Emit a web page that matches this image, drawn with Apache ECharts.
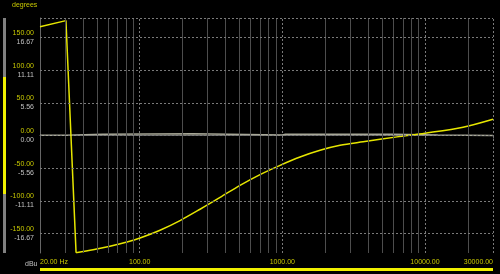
<!DOCTYPE html>
<html>
<head>
<meta charset="utf-8">
<script src="https://cdn.jsdelivr.net/npm/echarts@6/dist/echarts.min.js"></script>
<style>
html,body{margin:0;padding:0;background:#000;}
#c{width:500px;height:274px;}
</style>
</head>
<body>
<div id="c"></div>
<script>
// Phase response (degrees): wrap segment, then main curve
var wrapFreq = [20, 30.4, 35.8];
var wrapDeg  = [166.6, 176, -179.5];
var phaseFreq = [35.8, 47.1, 61.9, 81.5, 100.5, 138.8, 191.8, 265, 366, 505, 698, 964, 1331, 1839, 2540, 3682, 6376, 10000, 18500, 30000];
var phaseDeg  = [-179.5, -175.0, -169.6, -163.2, -157.1, -145.1, -130.3, -113.0, -94.9, -76.3, -59.9, -45.7, -33.0, -22.7, -15.1, -9.7, -2.1, 3.6, 12.8, 25.0];
// Magnitude (dBu)
var magFreq = [20, 30.8, 31, 55, 56, 236, 240, 1000, 1050, 6000, 6100, 12300, 12400, 30000];
var magDbu  = [0.05, 0.05, 0.2, 0.2, 0.3, 0.3, 0.1, 0.1, 0.2, 0.2, 0.1, 0.1, 0.0, 0.0];
// Axis ticks
var yTicks = [-150, -100, -50, 0, 50, 100, 150];
var yTopLine = [180];
var xLabelTicks = [20, 100, 1000, 10000, 30000];
var xMajorLines = [100, 1000, 10000, 30000];
var xMinorLines = [30, 40, 50, 60, 70, 80, 90, 200, 300, 400, 500, 600, 700, 800, 900, 2000, 3000, 4000, 5000, 6000, 7000, 8000, 9000, 20000];

var chart = echarts.init(document.getElementById('c'), null, {renderer: 'canvas'});
var yellow = '#e6e600';
var labelYellow = '#c8c800';
var labelGray = '#c0c0c0';
var font = 'Liberation Sans, Arial, sans-serif';

function vLines(arr) { return arr.map(function (v) { return {xAxis: v}; }); }
function hLines(arr) { return arr.map(function (v) { return {yAxis: v}; }); }
function pairs(xs, ys) { return xs.map(function (f, i) { return [f, ys[i]]; }); }

chart.setOption({
  backgroundColor: '#000',
  animation: false,
  grid: {left: 40, right: 7, top: 18, bottom: 21, containLabel: false},
  xAxis: {
    type: 'log', logBase: 10, min: 20, max: 30000,
    axisLine: {show: true, lineStyle: {color: '#666', width: 1}},
    axisTick: {show: true, customValues: xLabelTicks, length: 3, lineStyle: {color: '#666'}},
    splitLine: {show: false},
    minorSplitLine: {show: false},
    axisLabel: {
      customValues: xLabelTicks,
      color: labelYellow, fontSize: 7, fontFamily: font,
      margin: 6,
      alignMinLabel: 'left', alignMaxLabel: 'right',
      formatter: function (v) { return v === 20 ? '20.00 Hz' : Number(v).toFixed(2); }
    }
  },
  yAxis: [{
    type: 'value', min: -180, max: 180,
    axisLine: {show: true, lineStyle: {color: '#666', width: 1}},
    axisTick: {show: false},
    splitLine: {show: false},
    axisLabel: {
      customValues: yTicks,
      margin: 6,
      fontFamily: font,
      formatter: function (v) {
        return '{a|' + v.toFixed(2) + '}\n{b|' + (v / 9).toFixed(2) + '}';
      },
      rich: {
        a: {color: labelYellow, fontSize: 7, lineHeight: 9, align: 'right', fontFamily: font},
        b: {color: labelGray, fontSize: 7, lineHeight: 9, align: 'right', fontFamily: font}
      }
    }
  }, {
    type: 'value', min: -20, max: 20, show: false,
    splitLine: {show: false}
  }],
  series: [
    {
      type: 'line', name: 'grid', data: [], silent: true,
      markLine: {
        silent: true, symbol: 'none', label: {show: false}, animation: false,
        lineStyle: {color: '#4d4d4d', width: 1, type: 'solid'},
        data: vLines(xMinorLines)
      }
    },
    {
      type: 'line', name: 'grid2', data: [], silent: true,
      markLine: {
        silent: true, symbol: 'none', label: {show: false}, animation: false,
        lineStyle: {color: '#7a7a7a', width: 1, type: [2, 2]},
        data: vLines(xMajorLines).concat(hLines(yTicks)).concat(hLines(yTopLine))
      }
    },
    {
      type: 'line', name: 'dBu', yAxisIndex: 1,
      data: pairs(magFreq, magDbu),
      showSymbol: false, symbol: 'none',
      lineStyle: {color: '#a8a898', width: 1.5}
    },
    {
      type: 'line', name: 'degrees-wrap', yAxisIndex: 0,
      data: pairs(wrapFreq, wrapDeg),
      showSymbol: false, symbol: 'none', smooth: false,
      lineStyle: {color: yellow, width: 1.5}
    },
    {
      type: 'line', name: 'degrees', yAxisIndex: 0,
      data: pairs(phaseFreq, phaseDeg),
      showSymbol: false, symbol: 'none', smooth: 0.3,
      lineStyle: {color: yellow, width: 1.5}
    }
  ],
  graphic: [
    {type: 'text', left: 12, top: 2, style: {text: 'degrees', fill: labelYellow, font: '7px "Liberation Sans", Arial, sans-serif'}},
    {type: 'text', left: 25, top: 261, style: {text: 'dBu', fill: labelGray, font: '7px "Liberation Sans", Arial, sans-serif'}},
    {type: 'rect', shape: {x: 3, y: 18, width: 3, height: 59}, style: {fill: '#808080'}},
    {type: 'rect', shape: {x: 3, y: 77, width: 3, height: 117}, style: {fill: '#f0f000'}},
    {type: 'rect', shape: {x: 3, y: 194, width: 3, height: 59}, style: {fill: '#808080'}},
    {type: 'rect', shape: {x: 40, y: 268, width: 453, height: 3}, style: {fill: '#f0f000'}}
  ]
});
</script>
</body>
</html>
